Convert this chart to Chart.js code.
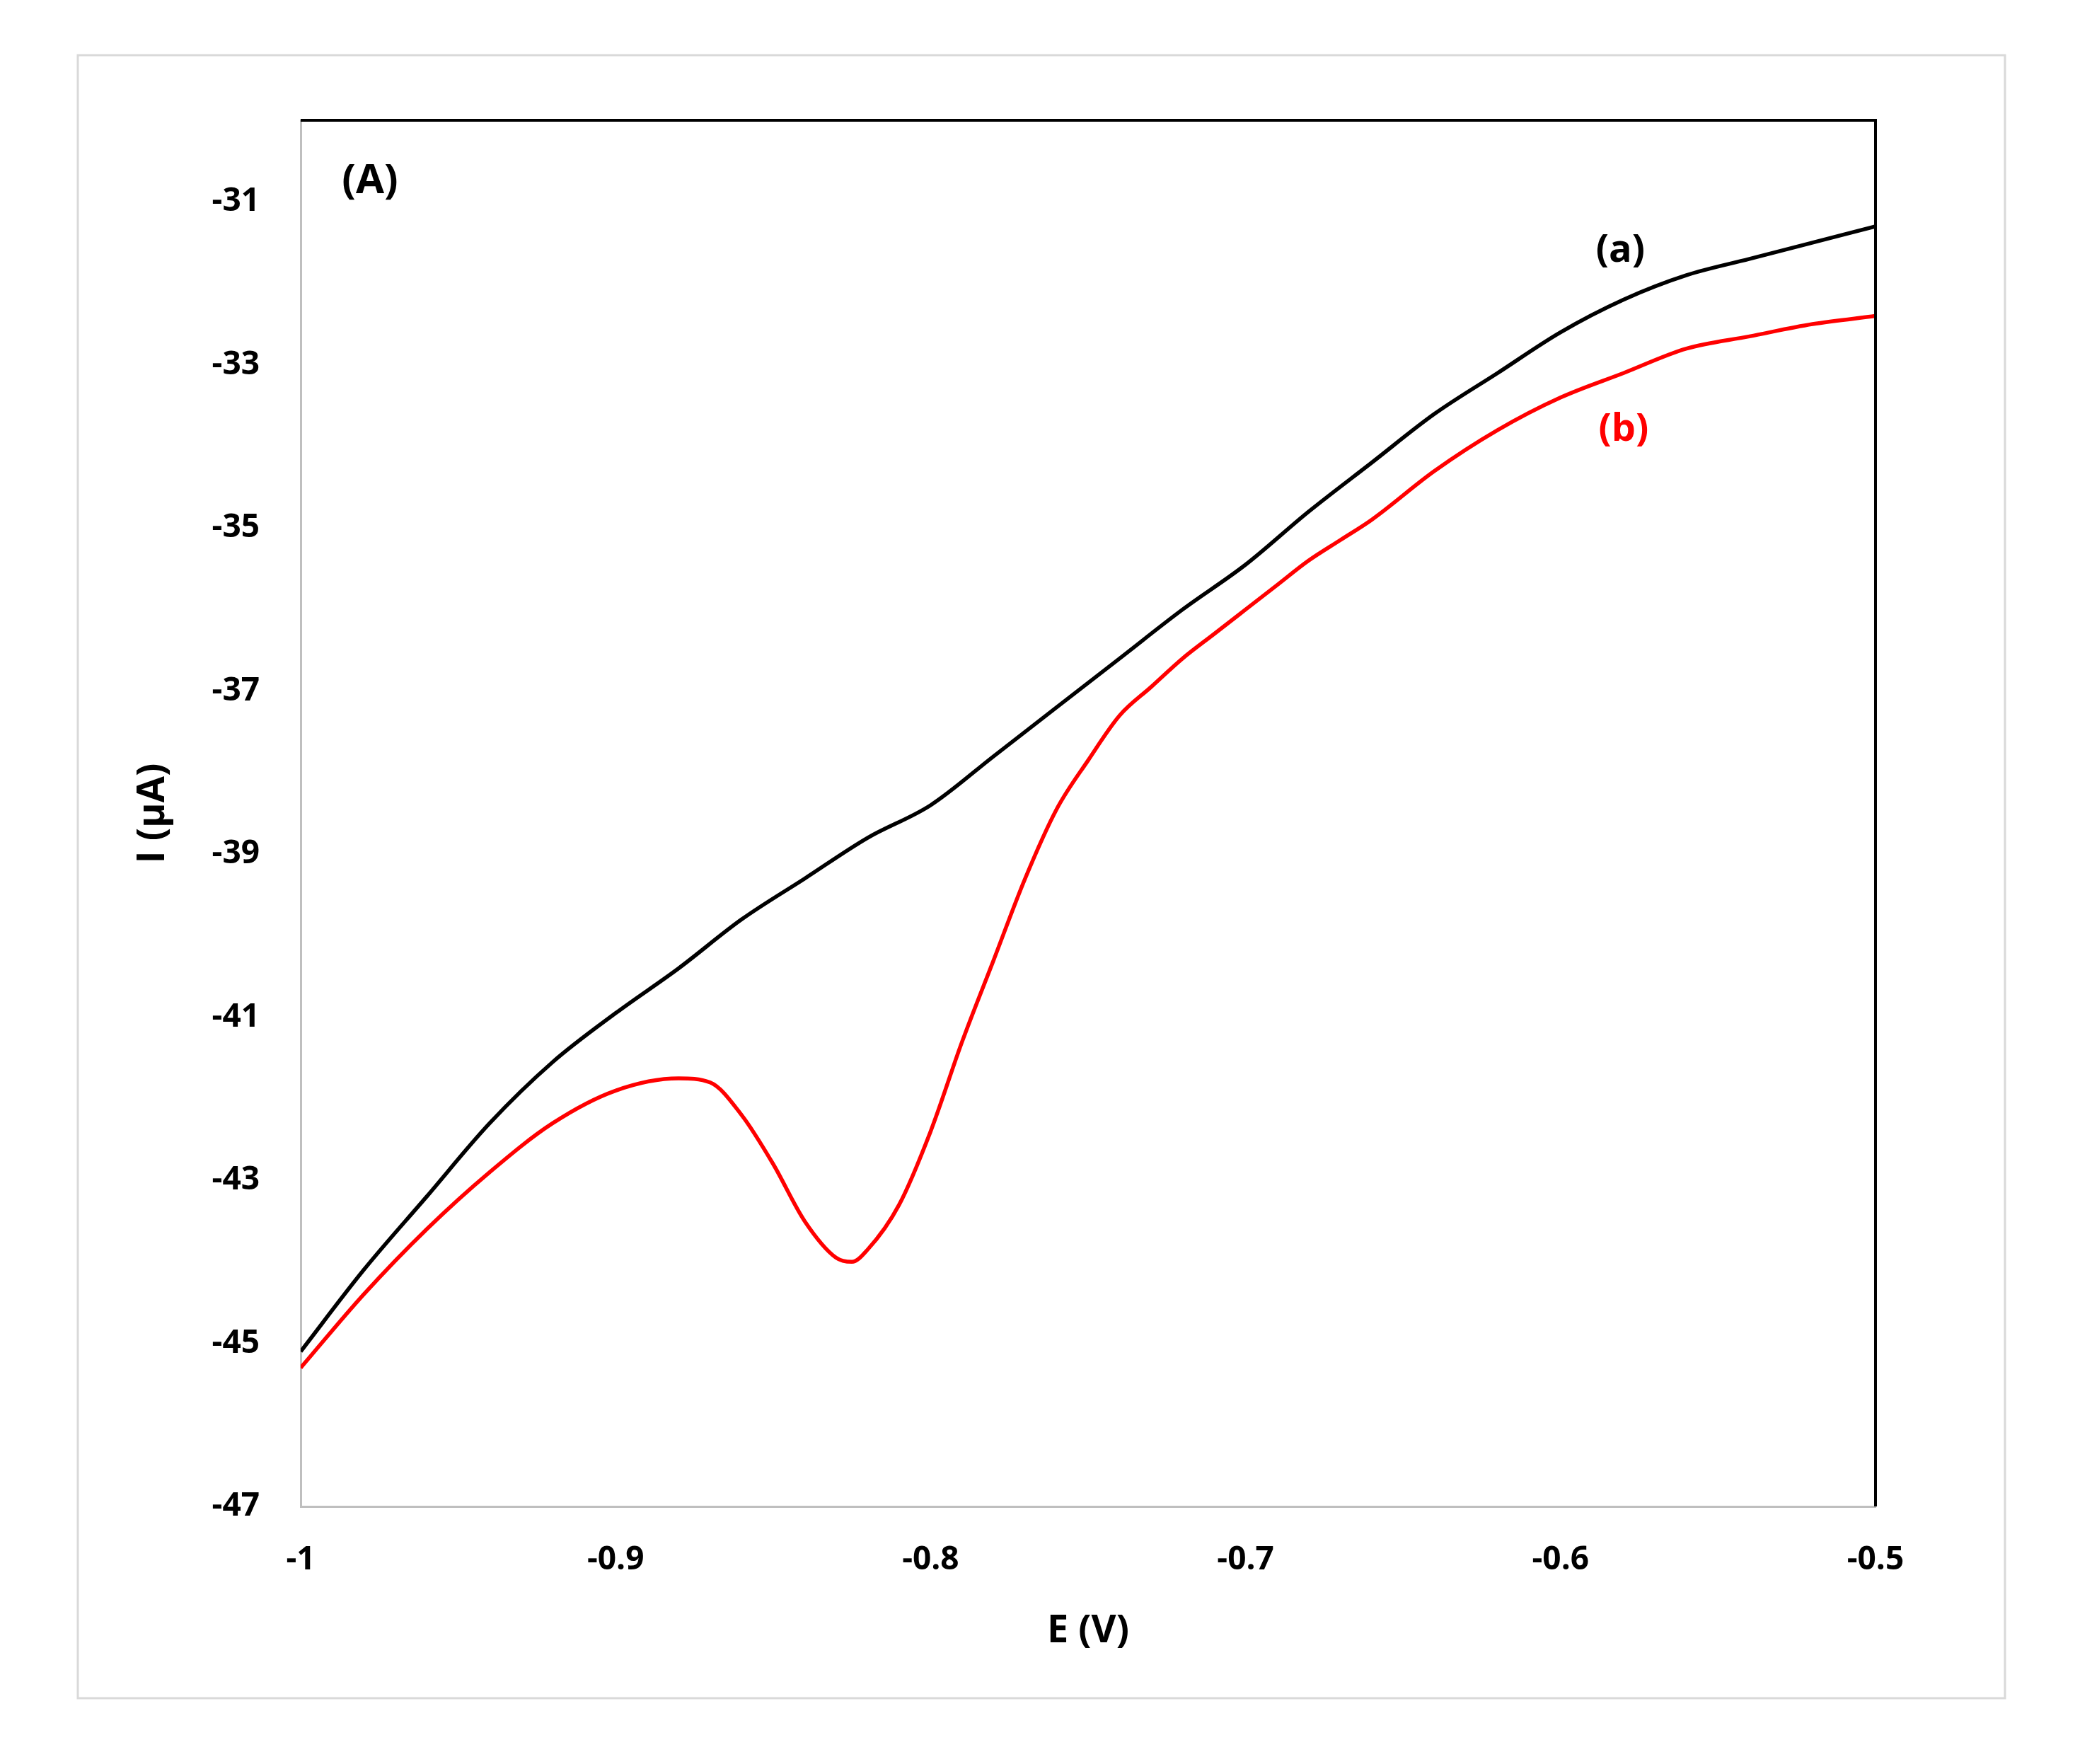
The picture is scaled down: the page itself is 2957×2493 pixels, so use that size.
<!DOCTYPE html>
<html>
<head>
<meta charset="utf-8">
<script src="https://cdn.jsdelivr.net/npm/chart.js@4.4.1/dist/chart.umd.min.js"></script>
<style>
  html, body { margin: 0; padding: 0; background: #fff; }
  #wrap { width: 2957px; height: 2493px; }
</style>
</head>
<body>
<div id="wrap"><canvas id="cv" width="2957" height="2493"></canvas></div>
<script>
const potentials = [-1, -0.98, -0.96, -0.94, -0.92, -0.9, -0.88, -0.86, -0.84, -0.82, -0.8, -0.78, -0.76, -0.74, -0.72, -0.7, -0.68, -0.66, -0.64, -0.62, -0.6, -0.58, -0.56, -0.54, -0.52, -0.5];
const currentA = [-45.1, -44.1, -43.2, -42.3, -41.55, -40.95, -40.4, -39.8, -39.3, -38.8, -38.4, -37.8, -37.2, -36.6, -36.0, -35.45, -34.8, -34.2, -33.6, -33.1, -32.6, -32.2, -31.9, -31.7, -31.5, -31.3];

const potentialsB = [-1, -0.98, -0.96, -0.94, -0.92, -0.9, -0.88, -0.87, -0.86, -0.85, -0.84, -0.83, -0.825, -0.82, -0.81, -0.8, -0.79, -0.78, -0.77, -0.76, -0.75, -0.74, -0.73, -0.72, -0.71, -0.7, -0.69, -0.68, -0.67, -0.66, -0.64, -0.62, -0.6, -0.58, -0.56, -0.54, -0.52, -0.5];
const currentB = [-45.3, -44.4, -43.6, -42.9, -42.3, -41.9, -41.75, -41.8, -42.2, -42.8, -43.5, -43.95, -44.0, -43.85, -43.3, -42.4, -41.3, -40.3, -39.3, -38.45, -37.85, -37.3, -36.95, -36.6, -36.3, -36.0, -35.7, -35.4, -35.15, -34.9, -34.3, -33.8, -33.4, -33.1, -32.8, -32.65, -32.5, -32.4];

const xTicks = [-1, -0.9, -0.8, -0.7, -0.6, -0.5];
const yTicks = [-47, -45, -43, -41, -39, -37, -35, -33, -31];

const FONT = '"Open Sans", "Liberation Sans", sans-serif';

const decor = {
    id: 'decor',
    beforeDraw(chart) {
        const c = chart.ctx;
        c.save();
        c.fillStyle = '#fff';
        c.fillRect(0, 0, chart.width, chart.height);
        c.strokeStyle = '#d9d9d9';
        c.lineWidth = 3;
        c.strokeRect(110, 78, 2724, 2322);
        c.restore();
    },
    afterDraw(chart) {
        const c = chart.ctx;
        const a = chart.chartArea;
        const xs = chart.scales.x, ys = chart.scales.y;
        c.save();
        c.strokeStyle = '#000';
        c.lineWidth = 4;
        c.beginPath();
        c.moveTo(a.left, a.top);
        c.lineTo(a.right, a.top);
        c.lineTo(a.right, a.bottom);
        c.stroke();

        c.textAlign = 'center';
        c.textBaseline = 'middle';
        c.fillStyle = '#000';
        c.font = 'bold 54px ' + FONT;
        c.fillText('E (V)', (a.left + a.right) / 2, 2306);
        c.save();
        c.translate(217, (a.top + a.bottom) / 2);
        c.rotate(-Math.PI / 2);
        c.fillText('I (µA)', 0, 0);
        c.restore();

        c.font = 'bold 58px ' + FONT;
        c.fillText('(A)', xs.getPixelForValue(-0.978), ys.getPixelForValue(-30.75));
        c.font = 'bold 54px ' + FONT;
        c.fillText('(a)', xs.getPixelForValue(-0.581), ys.getPixelForValue(-31.6));
        c.fillStyle = '#ff0000';
        c.fillText('(b)', xs.getPixelForValue(-0.58), ys.getPixelForValue(-33.8));
        c.restore();
    }
};

const toPoints = (xs, ys) => xs.map((x, i) => ({ x: x, y: ys[i] }));

new Chart(document.getElementById('cv'), {
    type: 'line',
    data: {
        datasets: [
            { label: '(a)', data: toPoints(potentials, currentA), borderColor: '#000000', borderWidth: 5.5, pointRadius: 0, cubicInterpolationMode: 'monotone' },
            { label: '(b)', data: toPoints(potentialsB, currentB), borderColor: '#ff0000', borderWidth: 5.5, pointRadius: 0, cubicInterpolationMode: 'monotone' }
        ]
    },
    options: {
        responsive: false,
        animation: false,
        devicePixelRatio: 1,
        layout: { padding: { top: 170, right: 2957 - 2651, left: 0, bottom: 0 } },
        plugins: { legend: { display: false }, tooltip: { enabled: false } },
        scales: {
            x: {
                type: 'linear', min: -1, max: -0.5,
                grid: { display: false, drawTicks: false },
                border: { display: true, color: '#bfbfbf', width: 3 },
                afterBuildTicks: s => { s.ticks = xTicks.map(v => ({ value: v })); },
                afterFit: s => { s.height = 2493 - 2129; },
                ticks: { padding: 48, color: '#000', font: { family: FONT, size: 46, weight: 'bold' }, maxRotation: 0, callback: v => String(v) }
            },
            y: {
                type: 'linear', min: -47, max: -30,
                grid: { display: false, drawTicks: false },
                border: { display: true, color: '#bfbfbf', width: 3 },
                afterBuildTicks: s => { s.ticks = yTicks.map(v => ({ value: v })); },
                afterFit: s => { s.width = 425; },
                ticks: { padding: 58, color: '#000', font: { family: FONT, size: 46, weight: 'bold' }, callback: v => String(v) }
            }
        }
    },
    plugins: [decor]
});
</script>
</body>
</html>
